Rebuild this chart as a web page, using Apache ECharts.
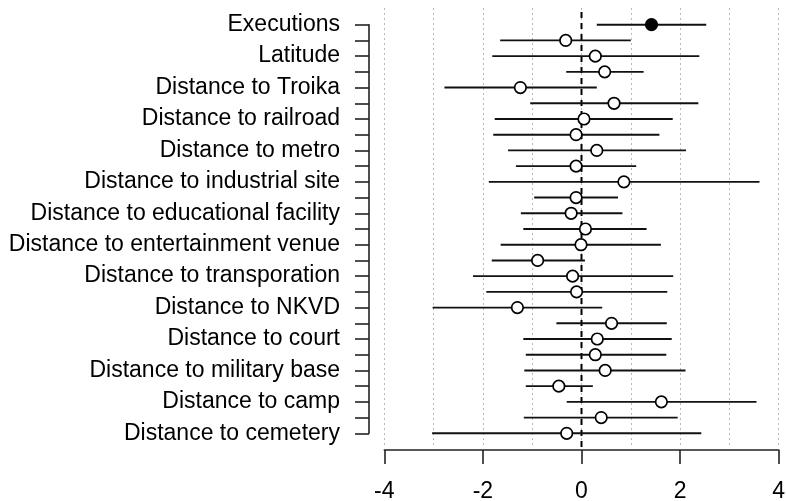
<!DOCTYPE html>
<html>
<head>
<meta charset="utf-8">
<script src="https://cdn.jsdelivr.net/npm/echarts@6/dist/echarts.min.js"></script>
<style>
html,body{margin:0;padding:0;background:#fff;}
#chart{width:786px;height:501px;}
</style>
</head>
<body>
<div id="chart"></div>
<script>
// Labelled rows (every other row carries a label)
const labels = ["Executions","Latitude","Distance to Troika","Distance to railroad","Distance to metro","Distance to industrial site","Distance to educational facility","Distance to entertainment venue","Distance to transporation","Distance to NKVD","Distance to court","Distance to military base","Distance to camp","Distance to cemetery"];
// Point estimates, top row first
const estimates = [1.42,-0.32,0.28,0.47,-1.24,0.66,0.05,-0.11,0.31,-0.11,0.86,-0.11,-0.21,0.08,-0.01,-0.89,-0.18,-0.10,-1.30,0.61,0.32,0.28,0.48,-0.46,1.62,0.40,-0.30];
const lower = [0.31,-1.65,-1.81,-0.31,-2.78,-1.04,-1.76,-1.79,-1.49,-1.33,-1.88,-0.96,-1.23,-1.18,-1.64,-1.82,-2.20,-1.93,-3.02,-0.51,-1.18,-1.13,-1.16,-1.13,-0.30,-1.17,-3.03];
const upper = [2.53,1.00,2.39,1.26,0.31,2.37,1.85,1.58,2.12,1.11,3.61,0.74,0.83,1.32,1.61,0.07,1.86,1.74,0.42,1.73,1.83,1.72,2.11,0.23,3.55,1.95,2.43];
const filledRows = [0];
const xTicks = [-4,-2,0,2,4];
const refLine = 0;

const categories = estimates.map((_, i) => (i % 2 === 0 ? labels[i / 2] : "row" + i));
const barData = estimates.map((_, i) => [lower[i], upper[i], i]);
const pointData = estimates.map((v, i) => ({
  value: [v, i],
  itemStyle: filledRows.includes(i) ? {color:'#000', borderColor:'#000'} : {color:'#fff', borderColor:'#000'}
}));

const FONT = 'Liberation Sans, Arial, Helvetica, sans-serif';
const L = 384.3, W = 394.4;

const chart = echarts.init(document.getElementById('chart'), null, {renderer:'canvas'});
chart.setOption({
  animation: false,
  backgroundColor: '#fff',
  grid: [
    {left: L, top: 8, width: W, height: 439, outerBoundsMode:'none', containLabel:false},
    {left: L, top: 24.7, width: W, height: 408.6, outerBoundsMode:'none', containLabel:false}
  ],
  xAxis: [
    {type:'value', gridIndex:0, min:-4, max:4, interval:1,
     axisLine:{show:false}, axisTick:{show:false}, axisLabel:{show:false},
     splitLine:{show:true, lineStyle:{color:'#b8b8b8', width:1, type:[2,3]}}},
    {type:'value', gridIndex:1, min:-4, max:4, interval:2, position:'bottom', offset:16.7,
     axisLine:{show:true, onZero:false, lineStyle:{color:'#222', width:1.6}},
     axisTick:{show:true, length:14, lineStyle:{color:'#222', width:1.6}},
     axisLabel:{show:true, margin:30, fontSize:23, color:'#000', fontFamily:FONT,
       formatter: v => xTicks.includes(v) ? String(v) : ''},
     splitLine:{show:false}}
  ],
  yAxis: [
    {type:'value', gridIndex:0, min:0, max:1, show:false},
    {type:'category', gridIndex:1, data:categories, inverse:true, boundaryGap:false,
     position:'left', offset:15.3,
     axisLine:{show:true, onZero:false, lineStyle:{color:'#222', width:1.6}},
     axisTick:{show:true, interval:0, length:14, lineStyle:{color:'#222', width:1.6}},
     axisLabel:{show:true, interval:1, margin:29, fontSize:23, color:'#000', fontFamily:FONT,
       padding:[7,0,0,0]},
     splitLine:{show:false}}
  ],
  series: [
    {type:'line', xAxisIndex:0, yAxisIndex:0, data:[[refLine,0],[refLine,1]], symbol:'none',
     lineStyle:{color:'#000', width:2, type:[6,5]}, z:1, silent:true},
    {type:'custom', xAxisIndex:1, yAxisIndex:1, data:barData, z:2,
     encode:{x:[0,1], y:2},
     renderItem: function(params, api){
       const p1 = api.coord([api.value(0), api.value(2)]);
       const p2 = api.coord([api.value(1), api.value(2)]);
       return {type:'line', shape:{x1:p1[0], y1:p1[1], x2:p2[0], y2:p2[1]},
               style:{stroke:'#111', lineWidth:1.9}};
     }},
    {type:'scatter', xAxisIndex:1, yAxisIndex:1, data:pointData, symbol:'circle', symbolSize:11.5,
     itemStyle:{borderWidth:1.7, opacity:1}, z:3}
  ]
});
</script>
</body>
</html>
